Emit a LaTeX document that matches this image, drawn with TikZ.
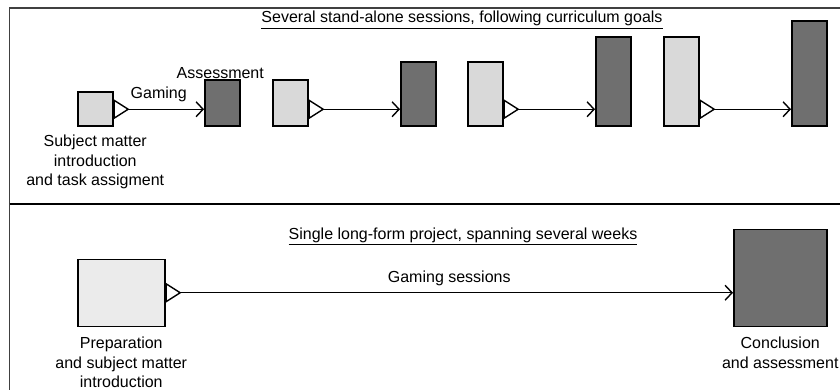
\documentclass[tikz,border=0pt]{standalone}
\usepackage{fontspec}
\setmainfont{Liberation Sans}
\usepackage{tikz}
\usetikzlibrary{positioning,arrows.meta}

\definecolor{boxlight}{HTML}{D9D9D9}
\definecolor{boxpale}{HTML}{EBEBEB}
\definecolor{boxdark}{HTML}{6F6F6F}
\definecolor{framegray}{HTML}{404040}

\begin{document}
\begin{tikzpicture}[x=1pt, y=1pt, node distance=9pt,
  font=\fontsize{16}{19.5}\selectfont,
  light/.style={draw, line width=1.5pt, fill=boxlight, anchor=south west, inner sep=0pt, minimum width=35pt},
  dark/.style={draw, line width=1.5pt, fill=boxdark, anchor=south west, inner sep=0pt, minimum width=35pt},
  txt/.style={inner sep=0pt, align=center},
  flow/.style={line width=1.4pt, {Triangle[open, reversed, fill=white, length=16pt, width=20pt]}-{Straight Barb[length=7pt, width=15pt]}}]

\useasboundingbox (0,0) rectangle (840,-390);

% Frame of the two panels
\draw[framegray, line width=1.3pt] (9.5,-390) -- (9.5,-8) -- (840,-8);
\draw[line width=2.2pt] (9.5,-204) -- (840,-204);

% Top panel title
\node[txt, anchor=base] (title1) at (462,-23) {\underline{Several stand-alone sessions, following curriculum goals}};

% Session 1
\node[light, minimum height=34pt] (intro1) at (77,-127) {};
\node[dark, minimum height=46pt] (assess1) at (204,-127) {};
\draw[flow] (intro1.east) -- (assess1.west |- intro1.east) node[midway, above=3pt] {Gaming};
\node[txt, above=1pt of assess1, xshift=-2pt] (lassess) {Assessment};
\node[txt, below=8pt of intro1] (lintro) {Subject matter\\introduction\\and task assigment};

% Session 2
\node[light, minimum height=46pt] (intro2) at (272,-127) {};
\node[dark, minimum height=64pt] (assess2) at (400,-127) {};
\draw[flow] (intro2.east |- intro1.east) -- (assess2.west |- intro1.east);

% Session 3
\node[light, minimum height=64pt] (intro3) at (467,-127) {};
\node[dark, minimum height=89pt] (assess3) at (595,-127) {};
\draw[flow] (intro3.east |- intro1.east) -- (assess3.west |- intro1.east);

% Session 4
\node[light, minimum height=89pt] (intro4) at (663,-127) {};
\node[dark, minimum height=105pt] (assess4) at (791,-127) {};
\draw[flow] (intro4.east |- intro1.east) -- (assess4.west |- intro1.east);

% Bottom panel title
\node[txt, anchor=base] (title2) at (463,-239) {\underline{Single long-form project, spanning several weeks}};

% Long-form project
\node[light, fill=boxpale, minimum width=87pt, minimum height=67pt] (prep) at (77,-327) {};
\node[dark, minimum width=93pt, minimum height=97pt] (final) at (733,-327) {};
\draw[flow] (prep.east) -- (final.west |- prep.east) node[midway, above=3pt] {Gaming sessions};
\node[txt, below=10pt of prep] (lprep) {Preparation\\and subject matter\\introduction};
\node[txt, below=10pt of final] (lfinal) {Conclusion\\and assessment};

\end{tikzpicture}
\end{document}
